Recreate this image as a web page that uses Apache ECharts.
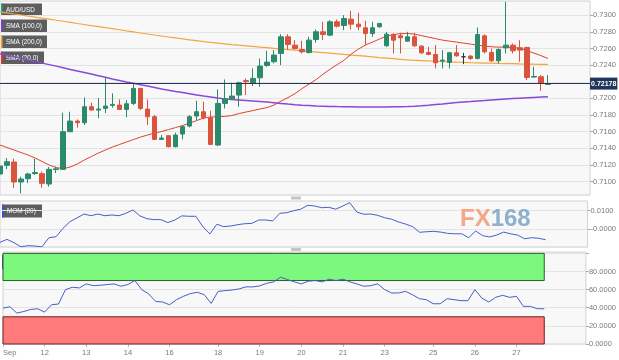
<!DOCTYPE html>
<html><head><meta charset="utf-8">
<script src="https://cdn.jsdelivr.net/npm/echarts@6/dist/echarts.min.js"></script>
<style>html,body{margin:0;padding:0;background:#fff}#c{width:619px;height:360px}</style>
</head><body><div id="c"></div>
<script>
// ---- data (4h AUD/USD candles) ----
const candles = [ // [open, close, low, high]
[0.71092,0.71188,0.71068,0.71224],[0.71196,0.71240,0.71152,0.71284],[0.71236,0.70996,0.70924,0.71276],
[0.70996,0.71032,0.70860,0.71060],[0.71036,0.71092,0.70984,0.71108],[0.71098,0.71110,0.71080,0.71272],
[0.71096,0.70980,0.70928,0.71120],[0.70972,0.71148,0.70940,0.71176],[0.71146,0.71154,0.71104,0.71180],
[0.71148,0.71600,0.71140,0.71828],[0.71600,0.71728,0.71596,0.71840],[0.71728,0.71708,0.71648,0.71748],
[0.71708,0.71900,0.71680,0.72012],[0.71900,0.71860,0.71856,0.71948],[0.71860,0.71872,0.71764,0.72004],
[0.71880,0.71908,0.71824,0.72256],[0.71916,0.71928,0.71888,0.72060],[0.71920,0.71868,0.71860,0.71988],
[0.71868,0.71936,0.71772,0.71980],[0.71940,0.72120,0.71920,0.72180],[0.72120,0.71880,0.71860,0.72124],
[0.71872,0.71780,0.71680,0.71988],[0.71780,0.71508,0.71500,0.71800],[0.71508,0.71524,0.71500,0.71560],
[0.71552,0.71420,0.71412,0.71560],[0.71420,0.71560,0.71412,0.71588],[0.71572,0.71660,0.71508,0.71680],
[0.71668,0.71780,0.71652,0.71800],[0.71788,0.71840,0.71740,0.71972],[0.71840,0.71772,0.71748,0.71960],
[0.71768,0.71448,0.71440,0.71852],[0.71440,0.71940,0.71428,0.72108],[0.71940,0.71996,0.71880,0.72228],
[0.71996,0.72028,0.71988,0.72188],[0.72040,0.72188,0.71900,0.72200],[0.72214,0.72202,0.72040,0.72240],
[0.72180,0.72240,0.72148,0.72360],[0.72248,0.72388,0.72140,0.72480],[0.72396,0.72436,0.72380,0.72572],
[0.72440,0.72520,0.72420,0.72580],[0.72540,0.72740,0.72400,0.72772],[0.72740,0.72648,0.72588,0.72772],
[0.72640,0.72600,0.72588,0.72700],[0.72588,0.72560,0.72540,0.72692],[0.72552,0.72700,0.72540,0.72740],
[0.72708,0.72800,0.72668,0.72828],[0.72800,0.72768,0.72700,0.72920],[0.72760,0.72920,0.72748,0.72940],
[0.72920,0.72868,0.72852,0.72948],[0.72876,0.72960,0.72820,0.73000],[0.72952,0.72892,0.72828,0.73052],
[0.72892,0.72860,0.72820,0.73028],[0.72848,0.72780,0.72640,0.72932],[0.72780,0.72848,0.72740,0.72920],
[0.72860,0.72900,0.72848,0.72908],[0.72632,0.72772,0.72620,0.72800],[0.72768,0.72700,0.72540,0.72784],
[0.72752,0.72728,0.72540,0.72788],[0.72688,0.72740,0.72680,0.72800],[0.72740,0.72632,0.72620,0.72788],
[0.72628,0.72548,0.72532,0.72640],[0.72552,0.72528,0.72520,0.72620],[0.72528,0.72428,0.72360,0.72640],
[0.72448,0.72460,0.72360,0.72580],[0.72432,0.72548,0.72360,0.72560],[0.72548,0.72512,0.72500,0.72640],
[0.72500,0.72500,0.72412,0.72548],[0.72508,0.72480,0.72460,0.72520],[0.72480,0.72768,0.72468,0.72852],
[0.72752,0.72560,0.72540,0.72768],[0.72552,0.72452,0.72440,0.72600],[0.72452,0.72588,0.72420,0.72600],
[0.72608,0.72640,0.72540,0.73160],[0.72640,0.72572,0.72540,0.72660],[0.72608,0.72580,0.72440,0.72700],
[0.72612,0.72252,0.72220,0.72620],[0.72256,0.72264,0.72252,0.72380],[0.72260,0.72180,0.72092,0.72280],
[0.72168,0.72178,0.72160,0.72280]
];
const sma20 = [0.7144,0.7141,0.7138,0.7135,0.7132,0.71284,0.71242,0.7120,0.7117,0.71156,
0.71176,0.71212,0.7126,0.71302,0.71344,0.7138,0.71416,0.71446,0.71476,0.71506,
0.71536,0.7156,0.71584,0.71602,0.71626,0.7165,0.71674,0.71704,0.71734,0.71764,
0.71776,0.7178,0.71784,0.71794,0.71818,0.71836,0.71854,0.71872,0.7189,0.7192,
0.71968,0.7201,0.72058,0.72118,0.72172,0.72226,0.72292,0.72352,0.72406,0.7246,
0.72532,0.72592,0.7264,0.72676,0.72712,0.72748,0.72766,0.72778,0.7278,0.72772,
0.72754,0.72736,0.72718,0.727,0.72688,0.72676,0.72664,0.72652,0.7264,0.72628,
0.7262,0.72616,0.72616,0.7261,0.72604,0.72574,0.72544,0.72514,0.7248];
const sma100 = [0.72538,0.7252,0.72502,0.72482,0.72462,0.72444,0.72424,0.72406,0.72388,0.72368,
0.72348,0.7233,0.72311,0.72292,0.72273,0.72254,0.72234,0.72216,0.72198,0.72182,
0.72165,0.72148,0.72131,0.72114,0.72099,0.72084,0.7207,0.72056,0.72041,0.72028,
0.72016,0.72004,0.71994,0.71986,0.7198,0.71974,0.71968,0.71962,0.71956,0.71948,
0.7194,0.71932,0.71925,0.71919,0.71914,0.71909,0.71907,0.71904,0.71902,0.71901,
0.719,0.71898,0.71898,0.71898,0.71898,0.71898,0.719,0.71901,0.71903,0.71907,
0.71912,0.71919,0.71927,0.71934,0.71943,0.7195,0.71956,0.71962,0.71969,0.71975,
0.71982,0.71988,0.71993,0.71998,0.72003,0.72008,0.72012,0.72016,0.7202];
const sma200 = [0.7304,0.73028,0.73014,0.73002,0.72989,0.72977,0.72964,0.72952,0.72939,0.72927,
0.72914,0.729,0.72888,0.72875,0.72863,0.7285,0.72838,0.72825,0.72812,0.728,
0.72786,0.72774,0.72762,0.7275,0.72738,0.72726,0.72714,0.72704,0.72693,0.72682,
0.72672,0.72664,0.72656,0.72647,0.72639,0.72632,0.72624,0.72616,0.72609,0.726,
0.72593,0.72586,0.72579,0.72572,0.72564,0.72557,0.7255,0.72543,0.72536,0.72528,
0.72521,0.72514,0.72507,0.725,0.72491,0.72484,0.72477,0.7247,0.72462,0.72458,
0.72454,0.7245,0.72447,0.72443,0.7244,0.72436,0.72434,0.7243,0.72428,0.72425,
0.72423,0.7242,0.72418,0.72417,0.72414,0.72413,0.72411,0.7241,0.72408];
const mom20 = [-0.0070,-0.0054,-0.0072,-0.0094,-0.0088,-0.0090,-0.0094,-0.0045,-0.0040,0.0005,
0.0041,0.0061,0.0082,0.0073,0.0082,0.0073,0.0077,0.0073,0.0086,0.0104,
0.0072,0.0057,0.0052,0.0052,0.0036,0.0050,0.0072,0.0070,0.0070,0.0014,
-0.0025,0.0027,0.0014,0.0018,0.0025,0.0030,0.0032,0.0050,0.0050,0.0045,
0.0086,0.0089,0.0100,0.0108,0.0129,0.0125,0.0116,0.0118,0.0108,0.0125,
0.0143,0.0093,0.0081,0.0082,0.0075,0.0062,0.0054,0.0039,0.0028,0.0014,
-0.0016,-0.0013,-0.0011,-0.0015,-0.0022,-0.0024,-0.0024,-0.0045,-0.0009,-0.0034,
-0.0041,-0.0031,-0.0015,-0.0024,-0.0031,-0.0051,-0.0045,-0.0048,-0.0056];
const rsi14 = [39.6,41.1,34.1,35.9,38.1,38.9,35.2,43.3,44.1,60.0,
62.6,61.9,66.3,64.4,64.8,65.6,66.3,63.7,65.6,70.0,
60.0,55.2,47.0,46.3,43.3,48.9,52.6,55.6,57.0,54.4,
44.8,58.1,58.9,59.6,60.7,63.0,63.0,64.1,67.0,68.5,
73.7,71.1,68.5,66.3,69.3,70.0,68.5,71.5,70.0,71.5,
68.5,66.3,63.7,64.4,66.3,60.0,56.3,56.3,58.1,54.4,
50.0,48.9,44.4,44.4,50.0,48.9,47.8,47.8,60.0,50.7,
46.3,51.5,53.7,51.5,52.6,41.5,41.5,38.9,38.9];
const lastPrice = 0.72178;
const rsiUpper = 70, rsiLower = 30, rsiTop = 100;
const tickLabels = ['Sep','12','13','14','16','18','19','20','21','23','25','26','27'];
const tickIndex  = [0,6,12,18,24,31,37,43,49,55,62,68,74];
const emptySlots = 6;

// ---- chart ----
const N = candles.length + emptySlots;
const cats = Array.from({length: N}, (_, i) => String(i));
const labelAt = {};
tickIndex.forEach((k, j) => labelAt[k] = tickLabels[j]);
const FONT = "'Liberation Sans',Arial,sans-serif";
const UP = '#2b8a6c', DOWN = '#d9533d';
const gridStyle = {left: 0, right: 28, show: true, backgroundColor: '#f8f8f8', borderColor: '#d2d2d2', borderWidth: 1};
const yBase = {
  position: 'right', axisLine: {show: false},
  axisTick: {show: true, length: 3, lineStyle: {color: '#aaa'}},
  splitLine: {lineStyle: {color: '#e4e4e4'}},
  axisLabel: {fontSize: 7.5, color: '#7a7a7a', fontFamily: FONT, margin: 3, showMinLabel: false, showMaxLabel: false}
};
function xa(gi, showLabels) {
  return {
    type: 'category', gridIndex: gi, data: cats, boundaryGap: false,
    axisLine: {show: false},
    axisTick: {show: showLabels, length: 3, lineStyle: {color: '#bbb'}, interval: (i) => labelAt[i] !== undefined},
    axisLabel: {show: showLabels, fontSize: 7.5, color: '#7a7a7a', fontFamily: FONT, margin: 5,
      interval: (i) => labelAt[i] !== undefined, formatter: (v, i) => labelAt[i] || '', alignMinLabel: 'left'},
    splitLine: {show: false}
  };
}
function box(x, y, w, h, text, bg, stripe) {
  return {type: 'group', x: x, y: y, z: 100, children: [
    {type: 'rect', shape: {x: 0, y: 0, width: w, height: h}, style: {fill: bg}},
    {type: 'rect', shape: {x: 0, y: 0, width: 1.5, height: h}, style: {fill: stripe}},
    {type: 'text', x: 5, y: h / 2, scaleX: 0.8, style: {text: text, fill: '#fff', fontSize: 8, fontFamily: FONT, verticalAlign: 'middle'}}
  ]};
}
const chart = echarts.init(document.getElementById('c'), null, {renderer: 'canvas'});
chart.setOption({
  animation: false,
  backgroundColor: '#ffffff',
  grid: [
    Object.assign({top: 1, height: 194}, gridStyle),
    Object.assign({top: 201, height: 46}, gridStyle),
    Object.assign({top: 252, height: 92}, gridStyle)
  ],
  xAxis: [xa(0, false), xa(1, false), xa(2, true)],
  yAxis: [
    Object.assign({}, yBase, {gridIndex: 0, scale: true, min: 0.7084, max: 0.7317, splitNumber: 12,
      axisLabel: Object.assign({}, yBase.axisLabel, {formatter: v => v.toFixed(4)})}),
    Object.assign({}, yBase, {gridIndex: 1, min: -0.0095, max: 0.0152, splitNumber: 2,
      axisLabel: Object.assign({}, yBase.axisLabel, {formatter: v => (Math.abs(v) < 1e-9 ? '-0.0000' : v.toFixed(4))})}),
    Object.assign({}, yBase, {gridIndex: 2, min: 0, max: 101.5, interval: 20,
      axisLabel: Object.assign({}, yBase.axisLabel, {showMinLabel: true, formatter: v => (v >= 100 ? '' : v.toFixed(4))})})
  ],
  series: [
    {type: 'line', name: 'SMA200', xAxisIndex: 0, yAxisIndex: 0, data: sma200, symbol: 'none',
      lineStyle: {color: '#f2a541', width: 1.2}, z: 2},
    {type: 'line', name: 'SMA100', xAxisIndex: 0, yAxisIndex: 0, data: sma100, symbol: 'none',
      lineStyle: {color: '#8a48d8', width: 1.5}, z: 2},
    {type: 'line', name: 'SMA20', xAxisIndex: 0, yAxisIndex: 0, data: sma20, symbol: 'none',
      lineStyle: {color: '#e2402f', width: 1}, z: 2},
    {type: 'candlestick', name: 'AUD/USD', xAxisIndex: 0, yAxisIndex: 0, data: candles, barWidth: 5, z: 3,
      itemStyle: {color: UP, color0: DOWN, borderColor: UP, borderColor0: DOWN, borderColorDoji: '#333', borderWidth: 1},
      markLine: {silent: true, symbol: ['none', 'none'], precision: 5,
        lineStyle: {color: '#263653', width: 1, type: 'solid'},
        label: {show: true, position: 'end', distance: 0, formatter: lastPrice.toFixed(5), color: '#fff',
          backgroundColor: '#1f3658', padding: [3, 1, 2, 1], fontSize: 7, fontWeight: 'bold', fontFamily: FONT},
        data: [{yAxis: lastPrice}]}},
    {type: 'line', name: 'MOM', xAxisIndex: 1, yAxisIndex: 1, data: mom20, symbol: 'none',
      lineStyle: {color: '#4a5cc8', width: 1}},
    {type: 'line', name: 'RSI', xAxisIndex: 2, yAxisIndex: 2, data: rsi14, symbol: 'none',
      lineStyle: {color: '#4a5cc8', width: 1}, z: 3,
      markArea: {silent: true, data: [
        [{xAxis: '0', yAxis: rsiUpper, itemStyle: {color: '#7cf87c', borderColor: '#2e5e2e', borderWidth: 1}},
         {xAxis: String(candles.length - 1), yAxis: rsiTop}],
        [{xAxis: '0', yAxis: 0, itemStyle: {color: '#ff7b7b', borderColor: '#6e2020', borderWidth: 1}},
         {xAxis: String(candles.length - 1), yAxis: rsiLower}]
      ]}}
  ],
  graphic: [
    box(1, 3.5, 41, 12, 'AUD/USD', 'rgba(80,80,80,0.92)', '#2aa08e'),
    box(1, 19.5, 46, 12.5, 'SMA (100,0)', 'rgba(80,80,80,0.92)', '#7b3fe4'),
    box(1, 35.5, 46, 12.5, 'SMA (200,0)', 'rgba(80,80,80,0.92)', '#f0a030'),
    box(1, 51.5, 43, 12.5, 'SMA (20,0)', 'rgba(80,80,80,0.92)', '#e8352a'),
    box(2, 204.5, 40, 13, 'MOM (20)', 'rgba(80,80,80,0.92)', '#3050e0'),
    box(2, 255, 56, 14, 'RSI (14,70,30,1)', 'rgba(40,70,40,0.85)', '#3050e0'),
    {type: 'rect', z: 100, shape: {x: 291, y: 196.5, width: 10, height: 3}, style: {fill: '#c4c4c4'}},
    {type: 'rect', z: 100, shape: {x: 291, y: 248, width: 10, height: 3}, style: {fill: '#c4c4c4'}},
    {type: 'text', z: 1, x: 460, y: 207, style: {text: '{a|FX}{b|168}', rich: {
      a: {fill: '#f4a88a', fontSize: 24, fontWeight: 'bold', fontFamily: "'Liberation Sans',sans-serif"},
      b: {fill: '#8fb0cc', fontSize: 24, fontWeight: 'bold', fontFamily: "'Liberation Sans',sans-serif"}}}}
  ]
});
</script></body></html>
